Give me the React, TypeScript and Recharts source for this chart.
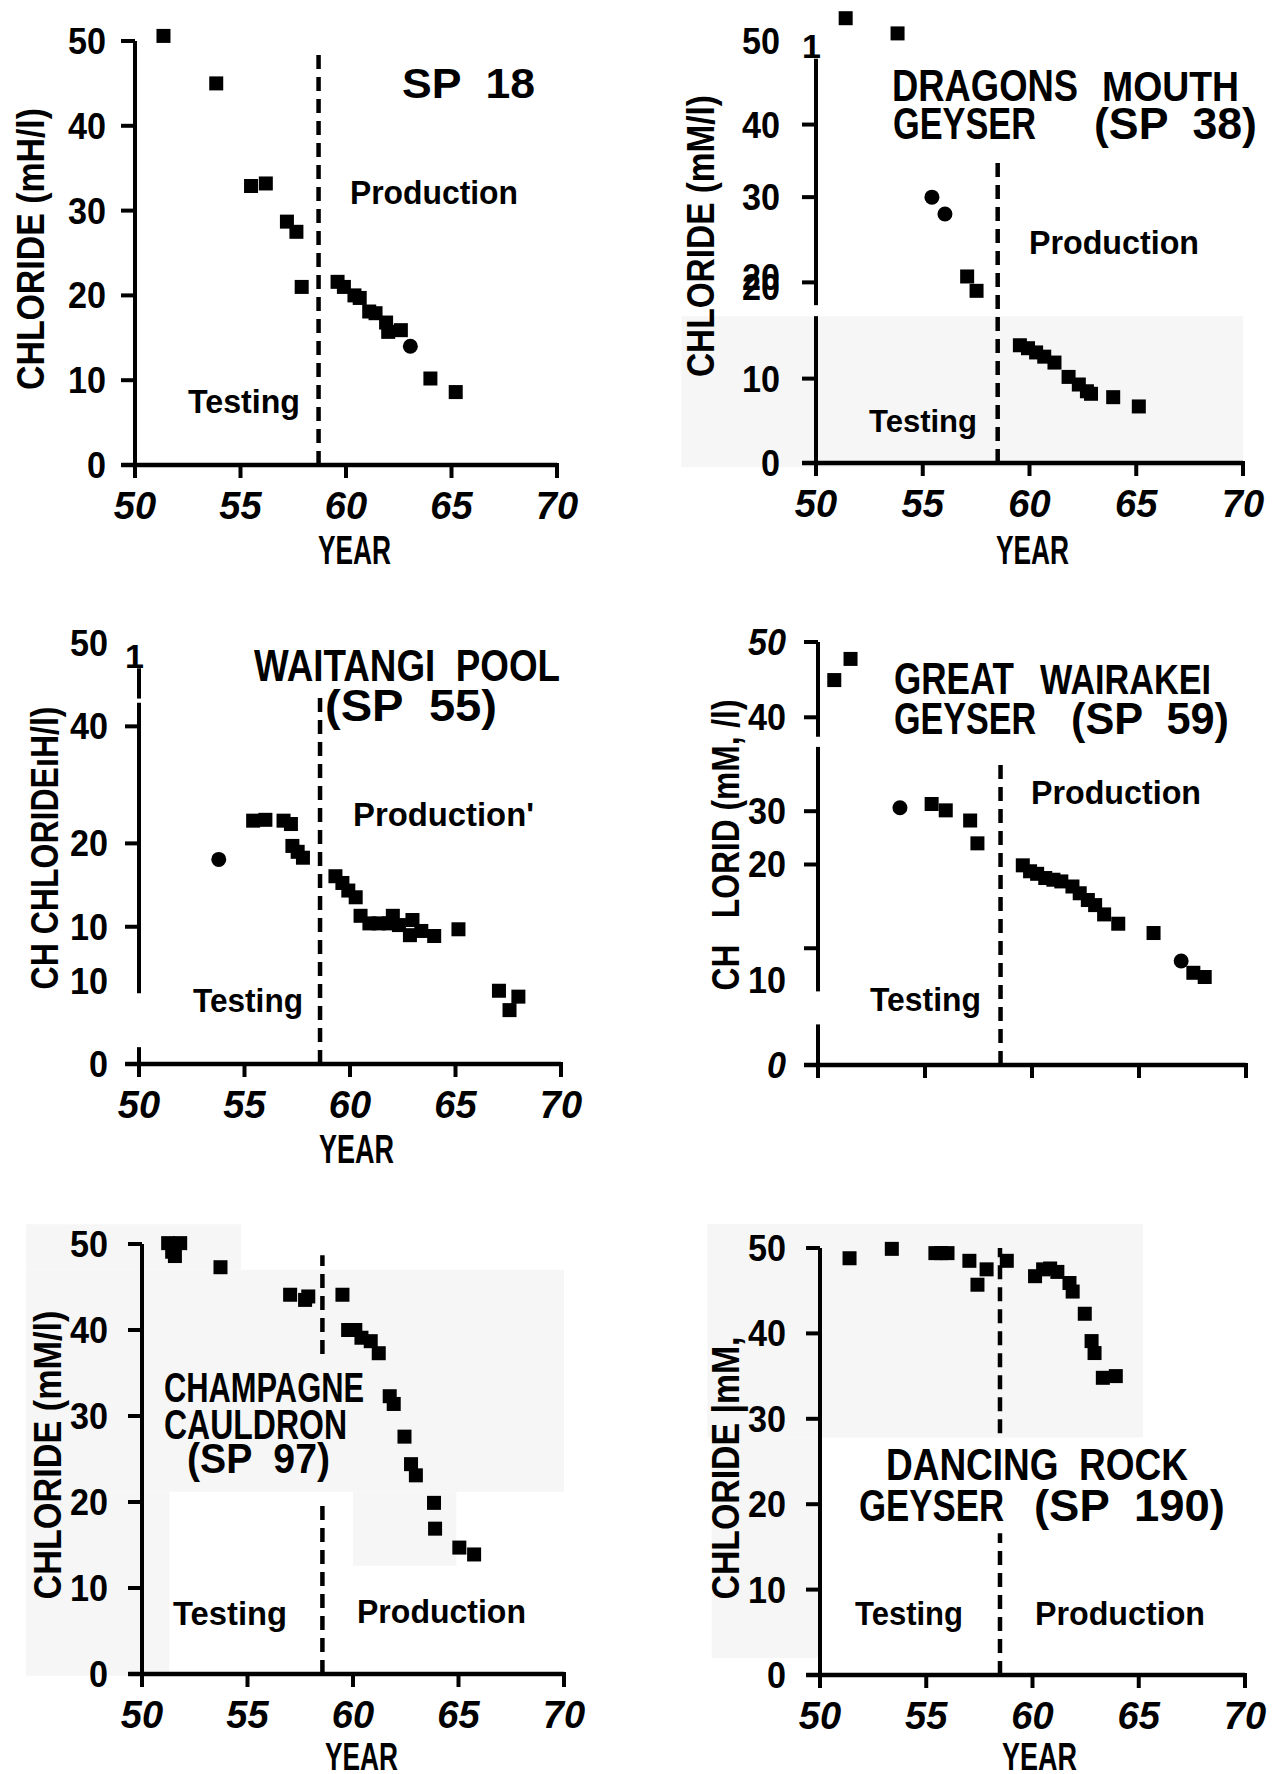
import React from 'react';
import { ScatterChart, Scatter, XAxis, YAxis, ReferenceLine, ReferenceArea } from 'recharts';

const FONT = '"Liberation Sans", Arial, Helvetica, sans-serif';

// ---- shared x axis ----
const yearTicks = [50, 55, 60, 65, 70];
const yearTickLabels = ['50', '55', '60', '65', '70'];

// ---- SP 18 ----
const sp18SquareYears = [51.35, 53.85, 55.5, 56.2, 57.2, 57.65, 57.9, 59.6, 59.9, 60.4, 60.65, 61.1, 61.4, 61.9, 62.0, 62.6, 64.0, 65.2];
const sp18SquareCl = [50.6, 45.0, 32.9, 33.2, 28.7, 27.5, 21.0, 21.6, 21.0, 20.0, 19.7, 18.1, 17.9, 16.8, 15.7, 15.9, 10.2, 8.6];
const sp18CircleYears = [63.05];
const sp18CircleCl = [14.0];
const sp18YTicks = [0, 10, 20, 30, 40, 50];
const sp18YLabels = ['0', '10', '20', '30', '40', '50'];

// ---- SP 38 Dragons Mouth ----
const sp38SquareYears = [51.39, 53.82, 57.08, 57.52, 59.55, 59.93, 60.31, 60.69, 61.17, 61.83, 62.31, 62.69, 62.88, 63.92, 65.12];
const sp38SquareCl = [52.7, 50.9, 22.1, 20.4, 13.95, 13.6, 13.1, 12.6, 11.9, 10.2, 9.3, 8.5, 8.2, 7.8, 6.7];
const sp38CircleYears = [55.43, 56.04];
const sp38CircleCl = [31.5, 29.5];
const sp38YTicks = [0, 10, 21.4, 31.5, 40.1, 50];
const sp38YLabels = ['0', '10', '20', '30', '40', '50'];

// ---- SP 55 Waitangi Pool ----
const sp55SquareYears = [55.41, 55.99, 56.85, 57.2, 57.27, 57.52, 57.77, 59.31, 59.64, 59.92, 60.27, 60.5, 60.92, 61.36, 61.84, 62.03, 62.32, 62.84, 62.96, 63.38, 63.99, 65.14, 67.06, 67.56, 67.98];
const sp55SquareCl = [28.9, 29.0, 28.9, 28.5, 25.9, 25.2, 24.5, 22.3, 21.5, 20.6, 19.8, 17.6, 16.7, 16.7, 16.7, 17.6, 16.5, 15.3, 17.1, 15.8, 15.2, 16.0, 8.7, 6.4, 8.0];
const sp55CircleYears = [53.78];
const sp55CircleCl = [24.3];
const sp55YTicks = [0, 9.8, 16.3, 26.2, 40.1, 50];
const sp55YLabels = ['0', '10', '10', '20', '40', '50'];

// ---- SP 59 Great Wairakei ----
const sp59SquareYears = [50.76, 51.52, 55.31, 55.97, 57.11, 57.45, 59.57, 59.91, 60.24, 60.62, 61.0, 61.37, 61.89, 62.23, 62.61, 62.95, 63.37, 64.03, 65.68, 67.54, 68.07];
const sp59SquareCl = [45.5, 48.0, 30.85, 30.1, 28.9, 26.2, 23.6, 22.9, 22.6, 22.1, 21.9, 21.7, 21.1, 20.3, 19.5, 18.9, 17.8, 16.7, 15.6, 10.9, 10.4];
const sp59CircleYears = [53.83, 66.97];
const sp59CircleCl = [30.4, 12.3];
const sp59YTicks = [0, 10, 13.8, 23.7, 30, 41.1, 50];
const sp59YLabels = ['0', '10', '', '20', '30', '40', '50'];

// ---- SP 97 Champagne Cauldron ----
const sp97SquareYears = [51.24, 51.43, 51.56, 51.81, 53.72, 57.02, 57.73, 57.88, 59.5, 59.77, 60.11, 60.4, 60.84, 61.22, 61.74, 61.93, 62.44, 62.75, 62.98, 63.84, 63.89, 65.04, 65.74];
const sp97SquareCl = [50.1, 49.1, 48.6, 50.1, 47.3, 44.1, 43.5, 43.9, 44.1, 40.0, 40.0, 39.1, 38.7, 37.3, 32.3, 31.4, 27.6, 24.4, 23.1, 19.9, 16.9, 14.7, 13.9];
const sp97YTicks = [0, 10, 20, 30, 40, 50];
const sp97YLabels = ['0', '10', '20', '30', '40', '50'];

// ---- SP 190 Dancing Rock ----
const sp190SquareYears = [51.39, 53.38, 55.43, 55.7, 56.0, 57.03, 57.41, 57.84, 58.79, 60.12, 60.5, 60.83, 61.17, 61.74, 61.89, 62.46, 62.78, 62.92, 63.31, 63.92];
const sp190SquareCl = [48.8, 49.9, 49.4, 49.4, 49.4, 48.5, 45.7, 47.5, 48.5, 46.7, 47.5, 47.6, 47.2, 45.9, 44.9, 42.3, 39.1, 37.7, 34.8, 35.0];
const sp190YTicks = [0, 10, 20, 30, 40, 50];
const sp190YLabels = ['0', '10', '20', '30', '40', '50'];

// ---- Testing / Production boundary (year) ----
const boundaryYears = [58.7, 58.51, 58.58, 58.53, 58.55, 58.47];

const zip = (xs: number[], ys: number[]) => xs.map((x, i) => ({ x, y: ys[i] }));

type Txt = { t: string; x: number; y: number; size: number; len?: number; rot?: boolean };

const panels: any[] = [
  {
    key: 'sp18',
    geom: { x50: 135, x70: 557, y0: 465, y50: 41 },
    squares: zip(sp18SquareYears, sp18SquareCl),
    circles: zip(sp18CircleYears, sp18CircleCl),
    yTicks: sp18YTicks, yLabels: sp18YLabels,
    yTickLine: [true, true, true, true, true, true],
    yItalic: [false, false, false, false, false, false],
    yGap: 29,
    ySegs: [[0, 50]],
    dashYear: boundaryYears[0], dashSegs: [[0, 48.9]],
    shades: [],
    showXLabels: true,
    texts: [
      { t: 'SP  18', x: 402, y: 98, size: 43, len: 133 },
      { t: 'Production', x: 350, y: 204, size: 34, len: 168 },
      { t: 'Testing', x: 188, y: 413, size: 34, len: 112 },
      { t: 'YEAR', x: 318, y: 564, size: 40, len: 73 },
      { t: 'CHLORIDE (mH/l)', x: 44, y: 249, size: 38, len: 282, rot: true },
    ],
  },
  {
    key: 'sp38',
    geom: { x50: 816, x70: 1243, y0: 463, y50: 41 },
    squares: zip(sp38SquareYears, sp38SquareCl),
    circles: zip(sp38CircleYears, sp38CircleCl),
    yTicks: sp38YTicks, yLabels: sp38YLabels,
    yTickLine: [true, true, true, true, true, false],
    yItalic: [false, false, false, false, false, false],
    yGap: 36,
    dup20: true,
    ySegs: [[0, 17.4], [18.7, 47.9]],
    dashYear: boundaryYears[1], dashSegs: [[0, 36.5]],
    shades: [[43.7, 70, -0.5, 17.4]],
    showXLabels: true,
    texts: [
      { t: 'DRAGONS', x: 892, y: 101, size: 44, len: 186 },
      { t: 'MOUTH', x: 1102, y: 101, size: 42, len: 137 },
      { t: 'GEYSER', x: 893, y: 139, size: 44, len: 143 },
      { t: '(SP  38)', x: 1094, y: 139, size: 44, len: 163 },
      { t: 'Production', x: 1029, y: 254, size: 34, len: 170 },
      { t: 'Testing', x: 869, y: 432, size: 32, len: 108 },
      { t: 'YEAR', x: 996, y: 564, size: 40, len: 73 },
      { t: '1', x: 802, y: 58, size: 34 },
      { t: 'CHLORIDE (mM/l)', x: 714, y: 236, size: 38, len: 282, rot: true },
    ],
  },
  {
    key: 'sp55',
    geom: { x50: 139, x70: 561, y0: 1064, y50: 643 },
    squares: zip(sp55SquareYears, sp55SquareCl),
    circles: zip(sp55CircleYears, sp55CircleCl),
    yTicks: sp55YTicks, yLabels: sp55YLabels,
    yTickLine: [true, false, true, true, true, false],
    yItalic: [false, false, false, false, false, false],
    yGap: 31,
    ySegs: [[0, 2], [8.4, 42.9], [43.4, 47]],
    dashYear: boundaryYears[2], dashSegs: [[0, 43.7]],
    shades: [],
    showXLabels: true,
    texts: [
      { t: 'WAITANGI  POOL', x: 254, y: 681, size: 44, len: 306 },
      { t: '(SP  55)', x: 325, y: 721, size: 44, len: 172 },
      { t: 'Production\'', x: 353, y: 826, size: 34, len: 181 },
      { t: 'Testing', x: 193, y: 1012, size: 34, len: 110 },
      { t: 'YEAR', x: 319, y: 1163, size: 40, len: 75 },
      { t: '1', x: 125, y: 668, size: 34 },
      { t: 'CH CHLORIDE\u0131H/l)', x: 58, y: 848, size: 38, len: 283, rot: true },
    ],
  },
  {
    key: 'sp59',
    geom: { x50: 818, x70: 1246, y0: 1065, y50: 642 },
    squares: zip(sp59SquareYears, sp59SquareCl),
    circles: zip(sp59CircleYears, sp59CircleCl),
    yTicks: sp59YTicks, yLabels: sp59YLabels,
    yTickLine: [true, false, true, true, true, true, true],
    yItalic: [true, false, false, false, false, false, true],
    yGap: 32,
    ySegs: [[0, 4.8], [8.7, 37.6], [38.8, 50]],
    dashYear: boundaryYears[3], dashSegs: [[0, 36.3]],
    shades: [],
    showXLabels: false,
    texts: [
      { t: 'GREAT', x: 894, y: 694, size: 44, len: 120 },
      { t: 'WAIRAKEI', x: 1040, y: 694, size: 42, len: 171 },
      { t: 'GEYSER', x: 894, y: 734, size: 44, len: 142 },
      { t: '(SP  59)', x: 1071, y: 734, size: 44, len: 158 },
      { t: 'Production', x: 1031, y: 804, size: 34, len: 170 },
      { t: 'Testing', x: 870, y: 1011, size: 34, len: 111 },
      { t: 'CH   LORID (mM, /l)', x: 739, y: 845, size: 38, len: 291, rot: true },
    ],
  },
  {
    key: 'sp97',
    geom: { x50: 142, x70: 564, y0: 1674, y50: 1244 },
    squares: zip(sp97SquareYears, sp97SquareCl),
    circles: [],
    yTicks: sp97YTicks, yLabels: sp97YLabels,
    yTickLine: [true, true, true, true, true, true],
    yItalic: [false, false, false, false, false, false],
    yGap: 34,
    ySegs: [[0, 50]],
    dashYear: boundaryYears[4], dashSegs: [[0, 20.2], [37.2, 48.7]],
    shades: [[44.5, 54.7, 47.0, 52.3], [44.5, 70, 21.2, 47.0], [44.5, 51.3, -0.2, 21.2], [60, 64.9, 12.6, 21.2]],
    showXLabels: true,
    texts: [
      { t: 'CHAMPAGNE', x: 164, y: 1402, size: 42, len: 200 },
      { t: 'CAULDRON', x: 164, y: 1439, size: 42, len: 183 },
      { t: '(SP  97)', x: 187, y: 1473, size: 42, len: 143 },
      { t: 'Testing', x: 173, y: 1625, size: 34, len: 114 },
      { t: 'Production', x: 357, y: 1623, size: 34, len: 169 },
      { t: 'YEAR', x: 325, y: 1770, size: 38, len: 73 },
      { t: 'CHLORIDE (mM/l)', x: 61, y: 1455, size: 38, len: 289, rot: true },
    ],
  },
  {
    key: 'sp190',
    geom: { x50: 820, x70: 1245, y0: 1675, y50: 1248 },
    squares: zip(sp190SquareYears, sp190SquareCl),
    circles: [],
    yTicks: sp190YTicks, yLabels: sp190YLabels,
    yTickLine: [true, true, true, true, true, true],
    yItalic: [false, false, false, false, false, false],
    yGap: 34,
    ySegs: [[0, 50]],
    dashYear: boundaryYears[5], dashSegs: [[0, 16.6], [28.3, 50]],
    shades: [[44.7, 65.2, 27.8, 52.8], [44.9, 50, 2.0, 27.8]],
    showXLabels: true,
    texts: [
      { t: 'DANCING  ROCK', x: 886, y: 1480, size: 44, len: 302 },
      { t: 'GEYSER', x: 859, y: 1521, size: 44, len: 145 },
      { t: '(SP  190)', x: 1034, y: 1521, size: 44, len: 191 },
      { t: 'Testing', x: 855, y: 1625, size: 34, len: 108 },
      { t: 'Production', x: 1035, y: 1625, size: 34, len: 170 },
      { t: 'YEAR', x: 1002, y: 1770, size: 38, len: 75 },
      { t: 'CHLORIDE |mM,', x: 739, y: 1468, size: 38, len: 263, rot: true },
    ],
  },
];

const YW = 160;
const RM = 35;
const XH = 110;
const HEAD = 30;
const SHADE = '#f6f6f6';

const SquareShape = (props: any) => (
  <rect x={props.cx - 7} y={props.cy - 7} width={14} height={14} fill="#000" />
);
const CircleShape = (props: any) => <circle cx={props.cx} cy={props.cy} r={7.5} fill="#000" />;

function YTick(props: any) {
  const { y, payload, p } = props;
  const idx = p.yTicks.findIndex((v: number) => Math.abs(v - payload.value) < 1e-6);
  if (idx < 0) return null;
  const label = p.yLabels[idx];
  const italic = p.yItalic[idx];
  const tl = p.yTickLine[idx];
  const tx = YW - p.yGap;
  const common: any = {
    textAnchor: 'end',
    fontFamily: FONT,
    fontWeight: 'bold',
    fontSize: 36,
    fontStyle: italic ? 'italic' : 'normal',
    fill: '#000',
    textLength: label ? label.length * 19 : undefined,
    lengthAdjust: 'spacingAndGlyphs',
  };
  return (
    <g>
      {tl && <line x1={YW - 14} x2={YW} y1={y} y2={y} stroke="#000" strokeWidth={4} />}
      {p.dup20 && label === '20' ? (
        <>
          <text x={tx} y={y + 8} {...common}>{label}</text>
          <text x={tx} y={y + 18} {...common}>{label}</text>
        </>
      ) : (
        label && <text x={tx} y={y + 13} {...common}>{label}</text>
      )}
    </g>
  );
}

function XTick(props: any) {
  const { x, payload, pb, show } = props;
  const idx = yearTicks.indexOf(payload.value);
  return (
    <g>
      <line x1={x} x2={x} y1={pb - 2} y2={pb + 13} stroke="#000" strokeWidth={4} />
      {show && (
        <text x={x} y={pb + 54} textAnchor="middle" fontFamily={FONT} fontWeight="bold" fontStyle="italic" fontSize={38} fill="#000">
          {yearTickLabels[idx]}
        </text>
      )}
    </g>
  );
}

function Panel({ p }: { p: any }) {
  const { x50, x70, y0, y50 } = p.geom;
  const ppu = (y0 - y50) / 50;
  const plotTop = y50 - HEAD;
  const yTop = 50 + HEAD / ppu;
  const left = x50 - YW;
  const top = plotTop;
  const width = YW + (x70 - x50) + RM;
  const height = y0 - plotTop + XH;
  const pb = y0 - top;

  return (
    <div style={{ position: 'absolute', left, top, width, height }}>
      <ScatterChart width={width} height={height} margin={{ top: 0, right: RM, bottom: 0, left: 0 }}>
        {p.shades.map((s: number[], i: number) => (
          <ReferenceArea
            key={'sh' + i}
            x1={s[0]}
            x2={s[1]}
            y1={s[2]}
            y2={s[3]}
            fill={SHADE}
            fillOpacity={1}
            stroke="none"
            ifOverflow="visible"
          />
        ))}
        <XAxis
          type="number"
          dataKey="x"
          domain={[50, 70]}
          ticks={yearTicks}
          interval={0}
          axisLine={false}
          tickLine={false}
          height={XH}
          tick={(tp: any) => <XTick {...tp} pb={pb} show={p.showXLabels} />}
        />
        <YAxis
          type="number"
          dataKey="y"
          domain={[0, yTop]}
          ticks={p.yTicks}
          interval={0}
          axisLine={false}
          tickLine={false}
          width={YW}
          tick={(tp: any) => <YTick {...tp} p={p} />}
        />
        <ReferenceLine
          segment={[{ x: 49.35, y: 0 }, { x: 70, y: 0 }]}
          stroke="#000"
          strokeWidth={4.5}
          ifOverflow="visible"
        />
        {p.ySegs.map((s: number[], i: number) => (
          <ReferenceLine
            key={'ys' + i}
            segment={[{ x: 50, y: s[0] }, { x: 50, y: s[1] }]}
            stroke="#000"
            strokeWidth={4}
            ifOverflow="visible"
          />
        ))}
        {p.dashSegs.map((s: number[], i: number) => (
          <ReferenceLine
            key={'ds' + i}
            segment={[{ x: p.dashYear, y: s[0] }, { x: p.dashYear, y: s[1] }]}
            stroke="#000"
            strokeWidth={4.5}
            strokeDasharray="14 8"
            ifOverflow="visible"
          />
        ))}
        <Scatter data={p.squares} shape={SquareShape} isAnimationActive={false} />
        {p.circles.length > 0 && <Scatter data={p.circles} shape={CircleShape} isAnimationActive={false} />}
      </ScatterChart>
    </div>
  );
}

function Annotations() {
  return (
    <svg
      width={1278}
      height={1774}
      style={{ position: 'absolute', left: 0, top: 0, pointerEvents: 'none' }}
    >
      {panels.map((p) =>
        p.texts.map((tx: Txt, i: number) => {
          const extra: any = tx.len ? { textLength: tx.len, lengthAdjust: 'spacingAndGlyphs' } : {};
          return (
            <text
              key={p.key + i}
              x={tx.x}
              y={tx.y}
              fontFamily={FONT}
              fontWeight="bold"
              fontSize={tx.size}
              fill="#000"
              textAnchor={tx.rot ? 'middle' : 'start'}
              transform={tx.rot ? `rotate(-90 ${tx.x} ${tx.y})` : undefined}
              style={{ whiteSpace: 'pre' }}
              {...extra}
            >
              {tx.t}
            </text>
          );
        })
      )}
    </svg>
  );
}

export default function App() {
  return (
    <div style={{ position: 'absolute', left: 0, top: 0, width: 1278, height: 1774, overflow: 'hidden', background: '#fff' }}>
      {panels.map((p) => (
        <Panel key={p.key} p={p} />
      ))}
      <Annotations />
    </div>
  );
}
